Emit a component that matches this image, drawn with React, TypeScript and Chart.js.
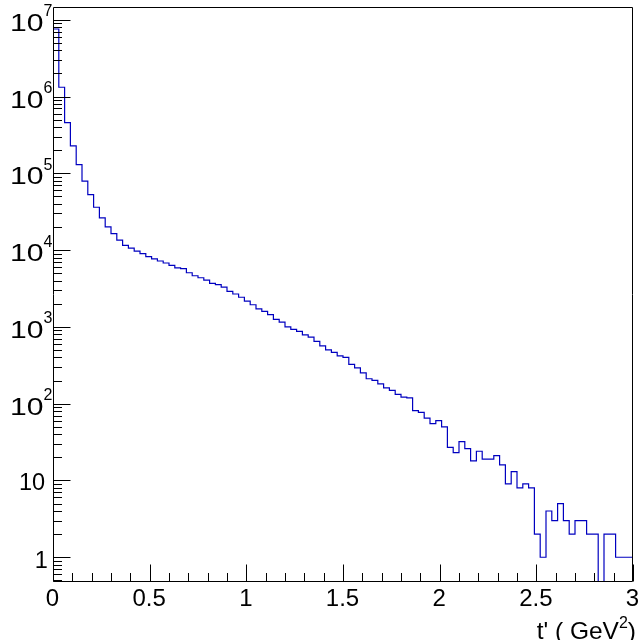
import React, { useEffect, useRef } from 'react';
import { Chart, registerables } from 'chart.js';

Chart.register(...registerables);

// Histogram: 100 bins from 0 to 3 GeV^2
const X_MIN = 0;
const X_MAX = 3;
const BIN_WIDTH = 0.03;
const COUNTS = [
  7570000, 1320000, 458000, 228000, 130000, 78900, 52800, 36100, 26200, 20000,
  16400, 13500, 11500, 10600, 9700, 8970, 8200, 7660, 7210, 6790,
  6340, 5850, 5730, 5070, 4630, 4360, 4070, 3690, 3540, 3300,
  2900, 2680, 2430, 2170, 1940, 1720, 1590, 1440, 1250, 1150,
  1000, 927, 873, 789, 736, 647, 567, 503, 465, 420,
  400, 324, 293, 252, 211, 201, 181, 161, 149, 132,
  122, 119, 81, 77, 65, 55, 60, 50, 27, 23,
  32, 26, 18, 24, 19, 19, 21, 16, 9, 13,
  8, 9, 8, 2, 1, 4, 3, 5, 3, 2,
  3, 3, 2, 2, 0, 2, 2, 1, 1, 1,
];
const Y_MIN = 0.476;
const Y_MAX = 1.464e7;
const Y_DECADES = [0, 1, 2, 3, 4, 5, 6, 7];
const X_MAJOR_TICKS = [0, 0.5, 1, 1.5, 2, 2.5, 3];
const X_TICK_LABELS = ['0', '0.5', '1', '1.5', '2', '2.5', '3'];
const X_TITLE_MAIN = "t' ( GeV";
const X_TITLE_SUP = '2';
const X_TITLE_END = ')';

const FONT = '"Liberation Sans", Arial, Helvetica, sans-serif';

function drawInkRight(ctx: CanvasRenderingContext2D, text: string, xRight: number, baseline: number, sx = 1) {
  ctx.save();
  ctx.textAlign = 'left';
  ctx.translate(xRight, baseline);
  ctx.scale(sx, 1);
  const m = ctx.measureText(text);
  ctx.fillText(text, -m.actualBoundingBoxRight, 0);
  ctx.restore();
}

const rootAxesPlugin = {
  id: 'rootAxes',
  afterDatasetsDraw(chart: any) {
    const { ctx, chartArea: a, scales } = chart;
    const xs = scales.x;
    const ys = scales.y;
    ctx.save();
    ctx.strokeStyle = '#000';
    ctx.lineWidth = 1;
    const L = Math.round(a.left) + 0.5;
    const R = Math.round(a.right) - 0.5;
    const T = Math.round(a.top) + 0.5;
    const B = Math.round(a.bottom) - 0.5;
    ctx.beginPath();
    ctx.rect(L, T, R - L, B - T);
    ctx.stroke();

    // y ticks (log)
    ctx.beginPath();
    for (let k = -1; k <= 8; k++) {
      for (let m = 1; m <= 9; m++) {
        const v = m * Math.pow(10, k);
        if (v < ys.min || v > ys.max) continue;
        const y = Math.round(ys.getPixelForValue(v)) + 0.5;
        const len = m === 1 ? 17 : 8.5;
        ctx.moveTo(L, y);
        ctx.lineTo(L + len, y);
      }
    }
    // x ticks
    for (let i = 0; i <= 30; i++) {
      const v = i * 0.1;
      const x = Math.round(xs.getPixelForValue(v)) + 0.5;
      const len = i % 5 === 0 ? 17 : 8.5;
      ctx.moveTo(x, B);
      ctx.lineTo(x, B - len);
    }
    ctx.stroke();

    // x labels
    ctx.fillStyle = '#000';
    ctx.font = `24px ${FONT}`;
    ctx.textAlign = 'center';
    ctx.textBaseline = 'alphabetic';
    X_MAJOR_TICKS.forEach((v, i) => {
      const x = xs.getPixelForValue(v);
      ctx.fillText(X_TICK_LABELS[i], x - 0.5, 606);
    });

    // y labels
    Y_DECADES.forEach((k) => {
      const y = ys.getPixelForValue(Math.pow(10, k));
      ctx.font = `23.5px ${FONT}`;
      if (k === 0) {
        drawInkRight(ctx, '1', 46.7, y + 10.5);
      } else if (k === 1) {
        drawInkRight(ctx, '10', 45, y + 10);
      } else {
        ctx.font = `16px ${FONT}`;
        drawInkRight(ctx, String(k), 52.5, y - 3.4);
        ctx.font = `23.5px ${FONT}`;
        drawInkRight(ctx, '10', 43.3, y + 11, 1.28);
      }
    });

    // x title
    ctx.font = `16px ${FONT}`;
    const supW = ctx.measureText(X_TITLE_SUP).width;
    ctx.font = `24.5px ${FONT}`;
    const endW = ctx.measureText(X_TITLE_END).width;
    const mainW = ctx.measureText(X_TITLE_MAIN).width;
    const xEnd = 636;
    const base = 638.5;
    ctx.textAlign = 'left';
    ctx.fillText(X_TITLE_END, xEnd - endW, base);
    ctx.font = `16px ${FONT}`;
    ctx.fillText(X_TITLE_SUP, xEnd - endW - supW, base - 10.5);
    ctx.font = `24.5px ${FONT}`;
    ctx.fillText(X_TITLE_MAIN, xEnd - endW - supW - mainW, base);
    ctx.restore();
  },
};

export default function App() {
  const ref = useRef<HTMLCanvasElement | null>(null);
  useEffect(() => {
    document.body.style.margin = '0';
    const canvas = ref.current;
    if (!canvas) return;
    // empty bins are drawn down to the axis floor, as ROOT does
    const points = COUNTS.map((c, i) => ({ x: X_MIN + i * BIN_WIDTH, y: c > 0 ? c : Y_MIN }));
    points.push({ x: X_MAX, y: COUNTS[COUNTS.length - 1] });
    const chart = new Chart(canvas, {
      type: 'line',
      data: {
        datasets: [
          {
            data: points,
            borderColor: '#0000c0',
            borderWidth: 1.2,
            pointRadius: 0,
            stepped: 'before',
            fill: false,
            tension: 0,
          },
        ],
      },
      options: {
        responsive: false,
        animation: false,
        devicePixelRatio: 1,
        layout: { padding: { left: 53, right: 6, top: 7, bottom: 58 } },
        plugins: { legend: { display: false }, tooltip: { enabled: false }, title: { display: false } },
        scales: {
          x: { type: 'linear', min: X_MIN, max: X_MAX, display: false },
          y: { type: 'logarithmic', min: Y_MIN, max: Y_MAX, display: false },
        },
      },
      plugins: [rootAxesPlugin],
    });
    return () => chart.destroy();
  }, []);
  return (
    <div style={{ position: 'fixed', left: 0, top: 0, width: 639, height: 640, background: '#fff' }}>
      <canvas ref={ref} width={639} height={640} style={{ display: 'block' }} />
    </div>
  );
}
